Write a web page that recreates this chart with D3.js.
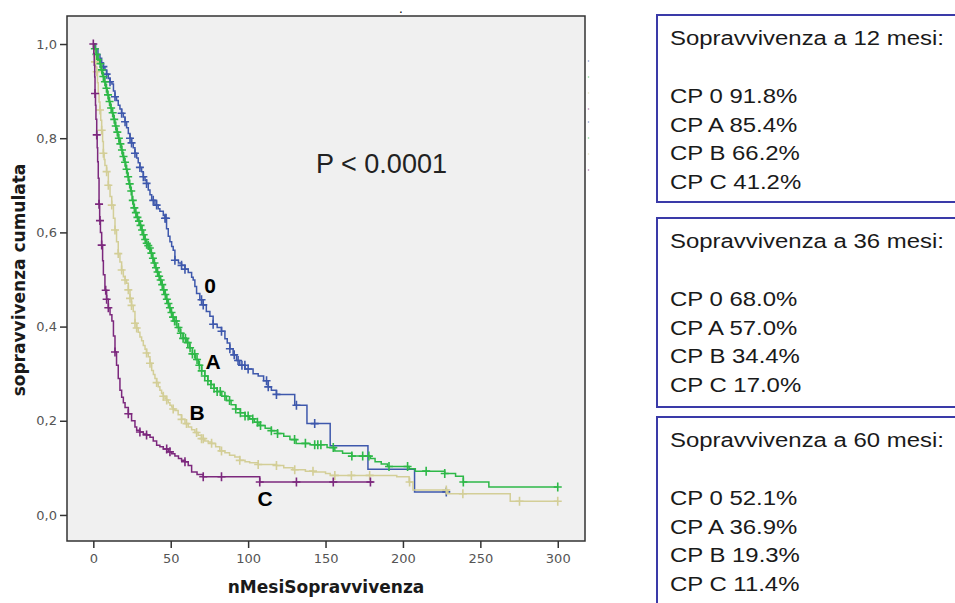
<!DOCTYPE html>
<html><head><meta charset="utf-8">
<script src="https://cdn.jsdelivr.net/npm/d3@7"></script>
<style>html,body{margin:0;padding:0;background:#fff;}svg{display:block;}</style>
</head><body>
<svg id="chart" width="955" height="603"></svg>
<script>
// ---- data ----
const groups = ["0", "A", "B", "C"];
const colors = ["#3E58AC", "#2EB848", "#D3CE97", "#7C287D"];
const xTicks = [0, 50, 100, 150, 200, 250, 300];
const yTicks = [0, 0.2, 0.4, 0.6, 0.8, 1.0];

const cp0Steps = [[0,1.0],[1.5,0.99],[3,0.978],[4.3,0.97],[5.4,0.96],[6.5,0.952],[7.5,0.945],[8.6,0.936],[9.7,0.927],[10.8,0.92],[12,0.915],[13,0.9],[14,0.888],[15,0.88],[16.1,0.87],[17.2,0.862],[18.3,0.853],[19.4,0.845],[20.5,0.835],[21.5,0.822],[22.6,0.81],[23.7,0.80],[24.7,0.79],[25.8,0.78],[26.9,0.768],[28,0.758],[29,0.748],[30.1,0.738],[31.2,0.729],[32.3,0.718],[33.4,0.71],[34.4,0.704],[35.5,0.69],[36.6,0.68],[37.7,0.668],[39.8,0.658],[41.9,0.65],[43,0.645],[45.2,0.636],[46.3,0.63],[47.3,0.608],[48.4,0.592],[49.5,0.58],[50.6,0.57],[51.6,0.562],[52.7,0.541],[55,0.535],[57,0.53],[59.2,0.522],[61.3,0.515],[63.5,0.505],[64.5,0.499],[65.6,0.485],[66.7,0.47],[68.8,0.457],[71,0.446],[73,0.432],[75.3,0.422],[77.4,0.405],[80,0.398],[82.8,0.39],[85,0.374],[86.5,0.365],[88.2,0.353],[90.3,0.34],[92.5,0.328],[94.6,0.318],[98,0.31],[103.2,0.30],[106.5,0.295],[110,0.285],[113,0.272],[115,0.265],[118.3,0.256],[130.1,0.233],[138,0.194],[153,0.147],[177.4,0.097],[207.5,0.049],[228,0.049]];
const cp0Censored = [6.5,8.6,10.8,14,18.3,20.5,23.7,24.7,26.9,30.1,32.3,34.4,38.7,40.9,46.3,47,52.7,57,59.2,69.9,71,77.4,82.8,88.2,91,93.5,96,97.9,100,111.9,113,118.3,131.2,143,228];

const cpASteps = [[0,1.0],[1,0.99],[2,0.978],[3,0.967],[4,0.958],[5,0.945],[6,0.931],[7,0.92],[8,0.906],[9,0.892],[10,0.878],[11,0.864],[12,0.854],[13,0.84],[14,0.826],[15,0.813],[16,0.80],[17,0.788],[18,0.775],[19,0.761],[20,0.749],[21,0.734],[22,0.718],[23,0.703],[24,0.688],[25,0.668],[26,0.652],[27,0.642],[28,0.632],[29,0.624],[30,0.615],[31,0.605],[32,0.595],[33,0.585],[34,0.577],[35,0.572],[36,0.567],[37,0.556],[38,0.545],[39,0.535],[40,0.525],[41,0.516],[42,0.507],[43,0.499],[44,0.489],[45,0.478],[46,0.468],[47,0.458],[48,0.449],[49,0.44],[50,0.43],[51,0.42],[52,0.412],[54,0.398],[56,0.386],[58,0.375],[60,0.366],[62,0.355],[64,0.342],[66,0.33],[68,0.318],[70,0.306],[72,0.295],[74,0.285],[76,0.277],[78,0.269],[80,0.262],[83,0.252],[86,0.243],[89,0.234],[92,0.225],[95,0.217],[98,0.21],[101,0.204],[104,0.197],[107,0.19],[111,0.184],[115,0.179],[119,0.173],[123,0.167],[127,0.16],[131,0.152],[140,0.149],[151,0.143],[156,0.136],[161,0.131],[167,0.125],[179,0.12],[182,0.113],[186,0.108],[190,0.103],[204,0.098],[208,0.093],[227,0.088],[234,0.082],[239,0.070],[255.5,0.0595],[300,0.0595]];
const cpACensored = [1,2,3,4.5,5.5,6.5,7.5,8.5,9.5,10.5,11.5,12.5,13.5,14.5,15.5,16.5,17.5,18.5,19.5,20.5,21.5,22.5,23.5,24.5,25.5,26.5,27.5,28.5,29.5,30.5,31.5,32.5,33.5,34.5,35.5,36.5,37.5,38.5,39.5,40.5,41.5,42.5,43.5,44.5,45.5,46.5,47.5,48.5,49.5,50.5,51.5,52.5,53.5,55,56.5,58,59.5,61,62.5,64,65.5,67,68.5,70,72,74,76,78,80,82,85,88,92,95,98,100,103,106,108,115,119,130,137,143,145,147,155,167,174,178,191,203,215,227,239,300];

const cpBSteps = [[0,0.985],[0.5,0.973],[1,0.962],[1.5,0.952],[2.2,0.941],[2.7,0.918],[3.2,0.895],[3.7,0.877],[4.3,0.86],[4.8,0.838],[5.4,0.817],[6,0.793],[6.5,0.768],[7,0.755],[7.5,0.742],[8.6,0.729],[9.7,0.70],[10.8,0.676],[11.9,0.658],[13,0.63],[14,0.605],[15,0.58],[16.1,0.555],[17.2,0.537],[18.3,0.52],[19.4,0.506],[20.5,0.499],[21.5,0.492],[22.6,0.478],[23.7,0.46],[24.7,0.445],[25.8,0.432],[26.9,0.407],[28,0.397],[29,0.388],[30.1,0.378],[31.2,0.37],[32.3,0.36],[33.4,0.352],[34.4,0.344],[35.5,0.336],[36.6,0.322],[37.7,0.307],[38.8,0.298],[39.8,0.29],[40.9,0.281],[41.9,0.272],[43,0.265],[44.1,0.258],[45.2,0.252],[46.3,0.248],[47.4,0.244],[48.4,0.238],[49.5,0.233],[50.6,0.229],[51.6,0.225],[52.7,0.222],[54.8,0.213],[57,0.203],[59.2,0.194],[61.3,0.187],[63.5,0.181],[65.6,0.175],[67.7,0.169],[69.9,0.162],[72,0.157],[74.2,0.155],[76.4,0.152],[79,0.145],[81.7,0.136],[85,0.132],[88,0.127],[91.4,0.123],[94.6,0.116],[98,0.113],[101,0.111],[106.5,0.107],[118.3,0.105],[123,0.1],[129,0.096],[137,0.093],[142,0.091],[150,0.088],[153,0.084],[196,0.081],[204,0.07],[206.5,0.053],[229,0.045],[269.3,0.029],[300,0.029]];
const cpBCensored = [1.1,2.2,4.3,5.4,6.5,8.6,9.7,11.9,14,16.1,18.3,20.5,22.6,23.7,24.7,26.9,28,34.4,36.6,40.9,45.2,47.4,51.6,57,60.2,66.7,69.9,71,76.4,82.8,94.6,106.5,118.3,130.1,141.9,156,166.7,178.5,204.3,228,238.7,275.3,300];

const cpCSteps = [[0,1.0],[0.3,0.98],[0.6,0.955],[0.9,0.93],[1.1,0.895],[1.4,0.87],[1.7,0.84],[2.2,0.807],[2.5,0.78],[2.8,0.75],[3.2,0.715],[3.7,0.66],[4.1,0.625],[4.6,0.6],[5.4,0.573],[6,0.54],[6.5,0.51],[7.5,0.477],[8.6,0.458],[9.7,0.44],[10.8,0.425],[12,0.412],[13,0.38],[14,0.346],[15,0.318],[16.1,0.29],[17.2,0.265],[18.3,0.25],[19.4,0.238],[20.5,0.228],[22.6,0.215],[24.7,0.2],[26.9,0.187],[28,0.18],[30.1,0.176],[32.3,0.172],[34.4,0.17],[36.6,0.165],[38.7,0.157],[40.9,0.148],[43,0.145],[45.2,0.14],[48.4,0.134],[50.6,0.13],[52.7,0.125],[55,0.12],[57,0.116],[59.2,0.113],[61.3,0.105],[63.5,0.091],[67,0.086],[71,0.081],[107.5,0.07],[181,0.07]];
const cpCCensored = [0,1.1,2.2,3.7,4.3,5.4,8,8.6,9.7,14,22.6,30.1,34.4,47.4,49.5,59.2,71,82.8,107.5,131.2,155,179];

const surv12 = [91.8, 85.4, 66.2, 41.2];
const surv36 = [68.0, 57.0, 34.4, 17.0];
const surv60 = [52.1, 36.9, 19.3, 11.4];
const boxMonths = [12, 36, 60];
const pValueLabel = "P < 0.0001";

// ---- drawing ----
const svg = d3.select("#chart");
const x = d3.scaleLinear().domain([-17, 317.6]).range([67, 585]);
const y = d3.scaleLinear().domain([-0.0553, 1.0595]).range([541, 16]);

svg.append("rect").attr("x", 67).attr("y", 16).attr("width", 518).attr("height", 525)
  .attr("fill", "#f0f0f0");

const axisFont = "DejaVu Sans, Verdana, sans-serif";
const yAxis = svg.append("g").attr("transform", "translate(67,0)")
  .call(d3.axisLeft(y).tickValues(yTicks).tickSize(7).tickPadding(3)
    .tickFormat(d => d3.format(".1f")(d).replace(".", ",")));
const xAxis = svg.append("g").attr("transform", "translate(0,541)")
  .call(d3.axisBottom(x).tickValues(xTicks).tickSize(7).tickPadding(6));
[xAxis, yAxis].forEach(g => {
  g.select(".domain").remove();
  g.selectAll(".tick line").attr("stroke", "#333").attr("stroke-width", 1.5);
  g.selectAll(".tick text").attr("fill", "#555").style("font-family", axisFont).style("font-size", "13px");
});

svg.append("rect").attr("x", 67).attr("y", 16).attr("width", 518).attr("height", 525)
  .attr("fill", "none").attr("stroke", "#333").attr("stroke-width", 1.5);

svg.append("text").attr("x", 326).attr("y", 593).attr("text-anchor", "middle")
  .style("font-family", axisFont).style("font-weight", "bold").style("font-size", "17px")
  .attr("fill", "#1a1a1a").text("nMesiSopravvivenza");
svg.append("text").attr("transform", "translate(25,280) rotate(-90)").attr("text-anchor", "middle")
  .style("font-family", axisFont).style("font-weight", "bold").style("font-size", "17px")
  .attr("fill", "#1a1a1a").text("sopravvivenza cumulata");

svg.append("text").attr("x", 399).attr("y", 13).style("font-family", axisFont).style("font-size", "12px").attr("fill", "#000").text(".");
[61, 77, 93, 109, 122, 138, 154, 170].forEach((py, i) => {
  svg.append("circle").attr("cx", 588.5).attr("cy", py).attr("r", 0.8).attr("fill", colors[i % 4]).attr("opacity", 0.6);
});

const series = [
  {steps: cp0Steps, cens: cp0Censored},
  {steps: cpASteps, cens: cpACensored},
  {steps: cpBSteps, cens: cpBCensored},
  {steps: cpCSteps, cens: cpCCensored}
];
const line = d3.line().x(d => x(d[0])).y(d => y(d[1])).curve(d3.curveStepAfter);
function survAt(steps, t) {
  let v = steps[0][1];
  for (const s of steps) { if (s[0] <= t) v = s[1]; else break; }
  return v;
}
const plot = svg.append("g");
series.forEach((s, i) => {
  plot.append("path").datum(s.steps).attr("d", line).attr("fill", "none")
    .attr("stroke", colors[i]).attr("stroke-width", 1.5);
  plot.append("g").selectAll("path").data(s.cens).join("path")
    .attr("d", t => { const px = x(t), py = y(survAt(s.steps, t));
      return `M${px-4},${py}h8M${px},${py-4.5}v9`; })
    .attr("fill", "none").attr("stroke", colors[i]).attr("stroke-width", 1.6);
});

const labelPos = [[210, 293], [213, 369], [197, 420], [265, 506]];
groups.forEach((g, i) => {
  svg.append("text").attr("x", labelPos[i][0]).attr("y", labelPos[i][1]).attr("text-anchor", "middle")
    .style("font-family", "Liberation Sans, Arial, sans-serif").style("font-weight", "bold")
    .style("font-size", "21px").attr("fill", "#000").text(g);
});

svg.append("text").attr("x", 316).attr("y", 173).attr("textLength", 131).attr("lengthAdjust", "spacingAndGlyphs")
  .style("font-family", "Liberation Sans, Arial, sans-serif").style("font-size", "28px")
  .attr("fill", "#222").text(pValueLabel);

const boxTops = [15, 218, 417];
const boxHeights = [187, 189, 200];
const boxVals = [surv12, surv36, surv60];
boxMonths.forEach((m, b) => {
  const top = boxTops[b];
  svg.append("rect").attr("x", 657).attr("y", top).attr("width", 310).attr("height", boxHeights[b])
    .attr("fill", "#fff").attr("stroke", "#3a3aa8").attr("stroke-width", 2);
  const tg = svg.append("g").attr("transform", `translate(670,${top}) scale(1.14,1)`)
    .style("font-family", "Liberation Sans, Arial, sans-serif").style("font-size", "21px").attr("fill", "#1a1a1a");
  tg.append("text").attr("x", 0).attr("y", 30).text(`Sopravvivenza a ${m} mesi:`);
  const offs = [88, 116.7, 145.3, 174];
  groups.forEach((g, i) => {
    tg.append("text").attr("x", 0).attr("y", offs[i]).text(`CP ${g} ${boxVals[b][i].toFixed(1)}%`);
  });
});
</script>
</body></html>
